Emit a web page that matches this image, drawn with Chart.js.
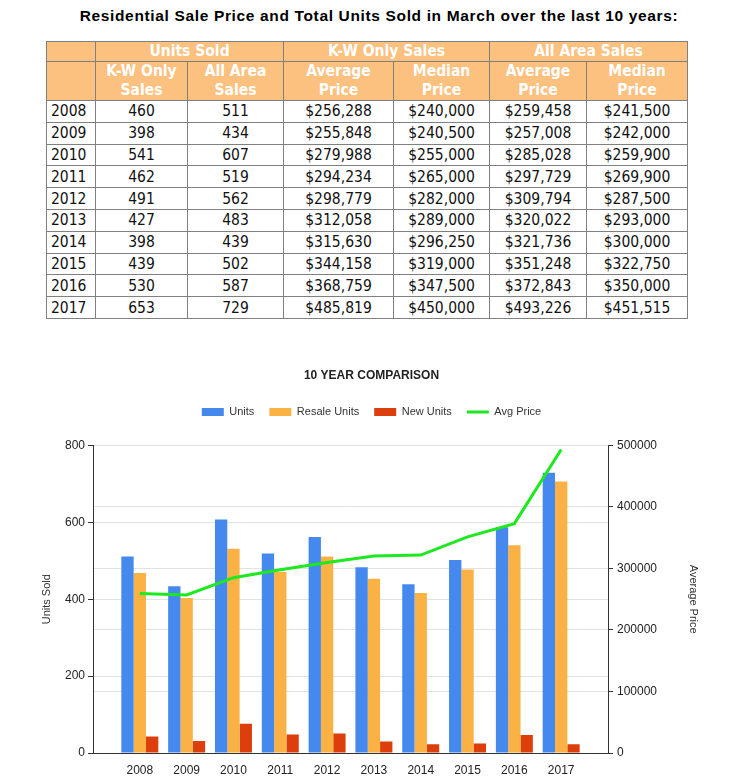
<!DOCTYPE html>
<html>
<head>
<meta charset="utf-8">
<script src="https://cdn.jsdelivr.net/npm/chart.js@4/dist/chart.umd.min.js"></script>
<style>
body{margin:0;background:#fff;width:743px;height:779px;overflow:hidden;position:relative;}
#ttl{position:absolute;left:15px;width:728px;top:7px;margin:0;text-align:center;font:bold 15.5px "Liberation Sans",Arial,sans-serif;letter-spacing:0.65px;color:#000;}
table{position:absolute;left:46px;top:41px;border-collapse:collapse;table-layout:fixed;width:641px;
  font-family:"DejaVu Sans Condensed","DejaVu Sans",sans-serif;font-stretch:condensed;font-size:15.5px;color:#111;}
td,th{border:1px solid #808080;padding:0 4px;overflow:hidden;white-space:nowrap;}
th{background:#fcc07f;color:#fff;font-weight:bold;font-size:15.5px;line-height:19px;}
tr.h1 th{height:19px;}
tr.h2 th{height:38px;}
td{height:20.8px;line-height:20px;text-align:center;}
td.yr{text-align:left;}
#wrap{position:absolute;left:0;top:350px;width:743px;height:429px;}
</style>
</head>
<body>
<div id="ttl">Residential Sale Price and Total Units Sold in March over the last 10 years:</div>
<table id="tbl">
<colgroup>
<col style="width:49px"><col style="width:92px"><col style="width:96px"><col style="width:110px"><col style="width:96px"><col style="width:97px"><col style="width:101px">
</colgroup>
<thead>
<tr class="h1"><th></th><th colspan="2">Units Sold</th><th colspan="2">K-W Only Sales</th><th colspan="2">All Area Sales</th></tr>
<tr class="h2"><th></th><th>K-W Only<br>Sales</th><th>All Area<br>Sales</th><th>Average<br>Price</th><th>Median<br>Price</th><th>Average<br>Price</th><th>Median<br>Price</th></tr>
</thead>
<tbody id="rows"></tbody>
</table>
<div id="wrap"><canvas id="chart" width="743" height="429"></canvas></div>
<script>
// table data
var years = ['2008','2009','2010','2011','2012','2013','2014','2015','2016','2017'];
var kwUnits = [460, 398, 541, 462, 491, 427, 398, 439, 530, 653];
var allUnits = [511, 434, 607, 519, 562, 483, 439, 502, 587, 729];
var kwAvg = [256288, 255848, 279988, 294234, 298779, 312058, 315630, 344158, 368759, 485819];
var kwMedian = [240000, 240500, 255000, 265000, 282000, 289000, 296250, 319000, 347500, 450000];
var allAvg = [259458, 257008, 285028, 297729, 309794, 320022, 321736, 351248, 372843, 493226];
var allMedian = [241500, 242000, 259900, 269900, 287500, 293000, 300000, 322750, 350000, 451515];
// chart only
var resaleUnits = [468, 403, 531, 471, 511, 453, 416, 477, 540, 706];
var newUnits = [43, 31, 76, 48, 51, 30, 23, 25, 47, 23];
var leftTicks = [0, 200, 400, 600, 800];
var rightTicks = [0, 100000, 200000, 300000, 400000, 500000];

function money(n){ return '$' + n.toLocaleString('en-US'); }

var html = '';
for (var i = 0; i < years.length; i++) {
  html += '<tr><td class="yr">' + years[i] + '</td><td>' + kwUnits[i] + '</td><td>' + allUnits[i] +
    '</td><td>' + money(kwAvg[i]) + '</td><td>' + money(kwMedian[i]) + '</td><td>' + money(allAvg[i]) +
    '</td><td>' + money(allMedian[i]) + '</td></tr>';
}
document.getElementById('rows').innerHTML = html;

// empty slot each side so the years sit one step in from the axes
function pad(a){ return [null].concat(a, [null]); }

var font = {family: '"Liberation Sans", Arial, sans-serif', size: 12};

var legendGap = {
  id: 'legendGap',
  beforeInit: function(chart){
    var fit = chart.legend.fit;
    chart.legend.fit = function(){
      fit.bind(chart.legend)();
      this.height += 18;
    };
  }
};

var ctx = document.getElementById('chart').getContext('2d');
var myChart = new Chart(ctx, {
  type: 'bar',
  data: {
    labels: pad(years).map(function(v){ return v || ''; }),
    datasets: [
      {label: 'Units', data: pad(allUnits), backgroundColor: '#4689ee', yAxisID: 'y', order: 1},
      {label: 'Resale Units', data: pad(resaleUnits), backgroundColor: '#fbb244', yAxisID: 'y', order: 1},
      {label: 'New Units', data: pad(newUnits), backgroundColor: '#dc3f0b', yAxisID: 'y', order: 1},
      {type: 'line', label: 'Avg Price', data: pad(allAvg), borderColor: '#1ee81e', backgroundColor: '#1ee81e',
       borderWidth: 3, pointRadius: 0, tension: 0, yAxisID: 'y1', order: 0}
    ]
  },
  options: {
    responsive: false,
    animation: false,
    devicePixelRatio: 1,
    layout: {padding: 0},
    datasets: {bar: {barPercentage: 1, categoryPercentage: 0.79}},
    plugins: {
      title: {
        display: true,
        text: '10 YEAR COMPARISON',
        color: '#222',
        font: {family: font.family, size: 12, weight: 'bold'},
        padding: {top: 18, bottom: 9}
      },
      legend: {
        labels: {
          color: '#333',
          font: {family: font.family, size: 11},
          usePointStyle: true,
          pointStyleWidth: 22,
          boxHeight: 8,
          padding: 15,
          sort: function(a, b){ return a.datasetIndex - b.datasetIndex; },
          generateLabels: function(chart){
            var items = Chart.defaults.plugins.legend.labels.generateLabels(chart);
            items.forEach(function(it){
              if (it.datasetIndex === 3) {
                it.pointStyle = 'line';
                it.lineWidth = 3;
                it.strokeStyle = '#1ee81e';
              } else {
                it.pointStyle = 'rect';
                it.lineWidth = 0;
              }
            });
            return items;
          }
        }
      },
      tooltip: {enabled: false}
    },
    scales: {
      x: {
        offset: false,
        grid: {display: false},
        border: {color: '#333'},
        ticks: {color: '#222', font: font, padding: 2, autoSkip: false, maxRotation: 0},
        afterFit: function(s){ s.height = 26; }
      },
      y: {
        position: 'left',
        min: 0, max: 800,
        afterBuildTicks: function(s){ s.ticks = leftTicks.map(function(v){ return {value: v}; }); },
        ticks: {color: '#222', font: font, padding: 3},
        grid: {color: '#e2e2e2', tickColor: '#333', tickLength: 5},
        border: {color: '#333'},
        title: {display: true, text: 'Units Sold', color: '#333', font: {family: font.family, size: 11}, padding: {top: 40, bottom: 0}},
        afterFit: function(s){ s.width = 93; }
      },
      y1: {
        position: 'right',
        min: 0, max: 500000,
        afterBuildTicks: function(s){ s.ticks = rightTicks.map(function(v){ return {value: v}; }); },
        ticks: {color: '#222', font: font, padding: 4, callback: function(v){ return String(v); }},
        grid: {color: '#e2e2e2', tickColor: '#333', tickLength: 5},
        border: {color: '#333'},
        title: {display: true, text: 'Average Price', color: '#333', font: {family: font.family, size: 11}, padding: {top: 43, bottom: 0}},
        afterFit: function(s){ s.width = 135; }
      }
    }
  },
  plugins: [legendGap]
});
</script>
</body>
</html>
